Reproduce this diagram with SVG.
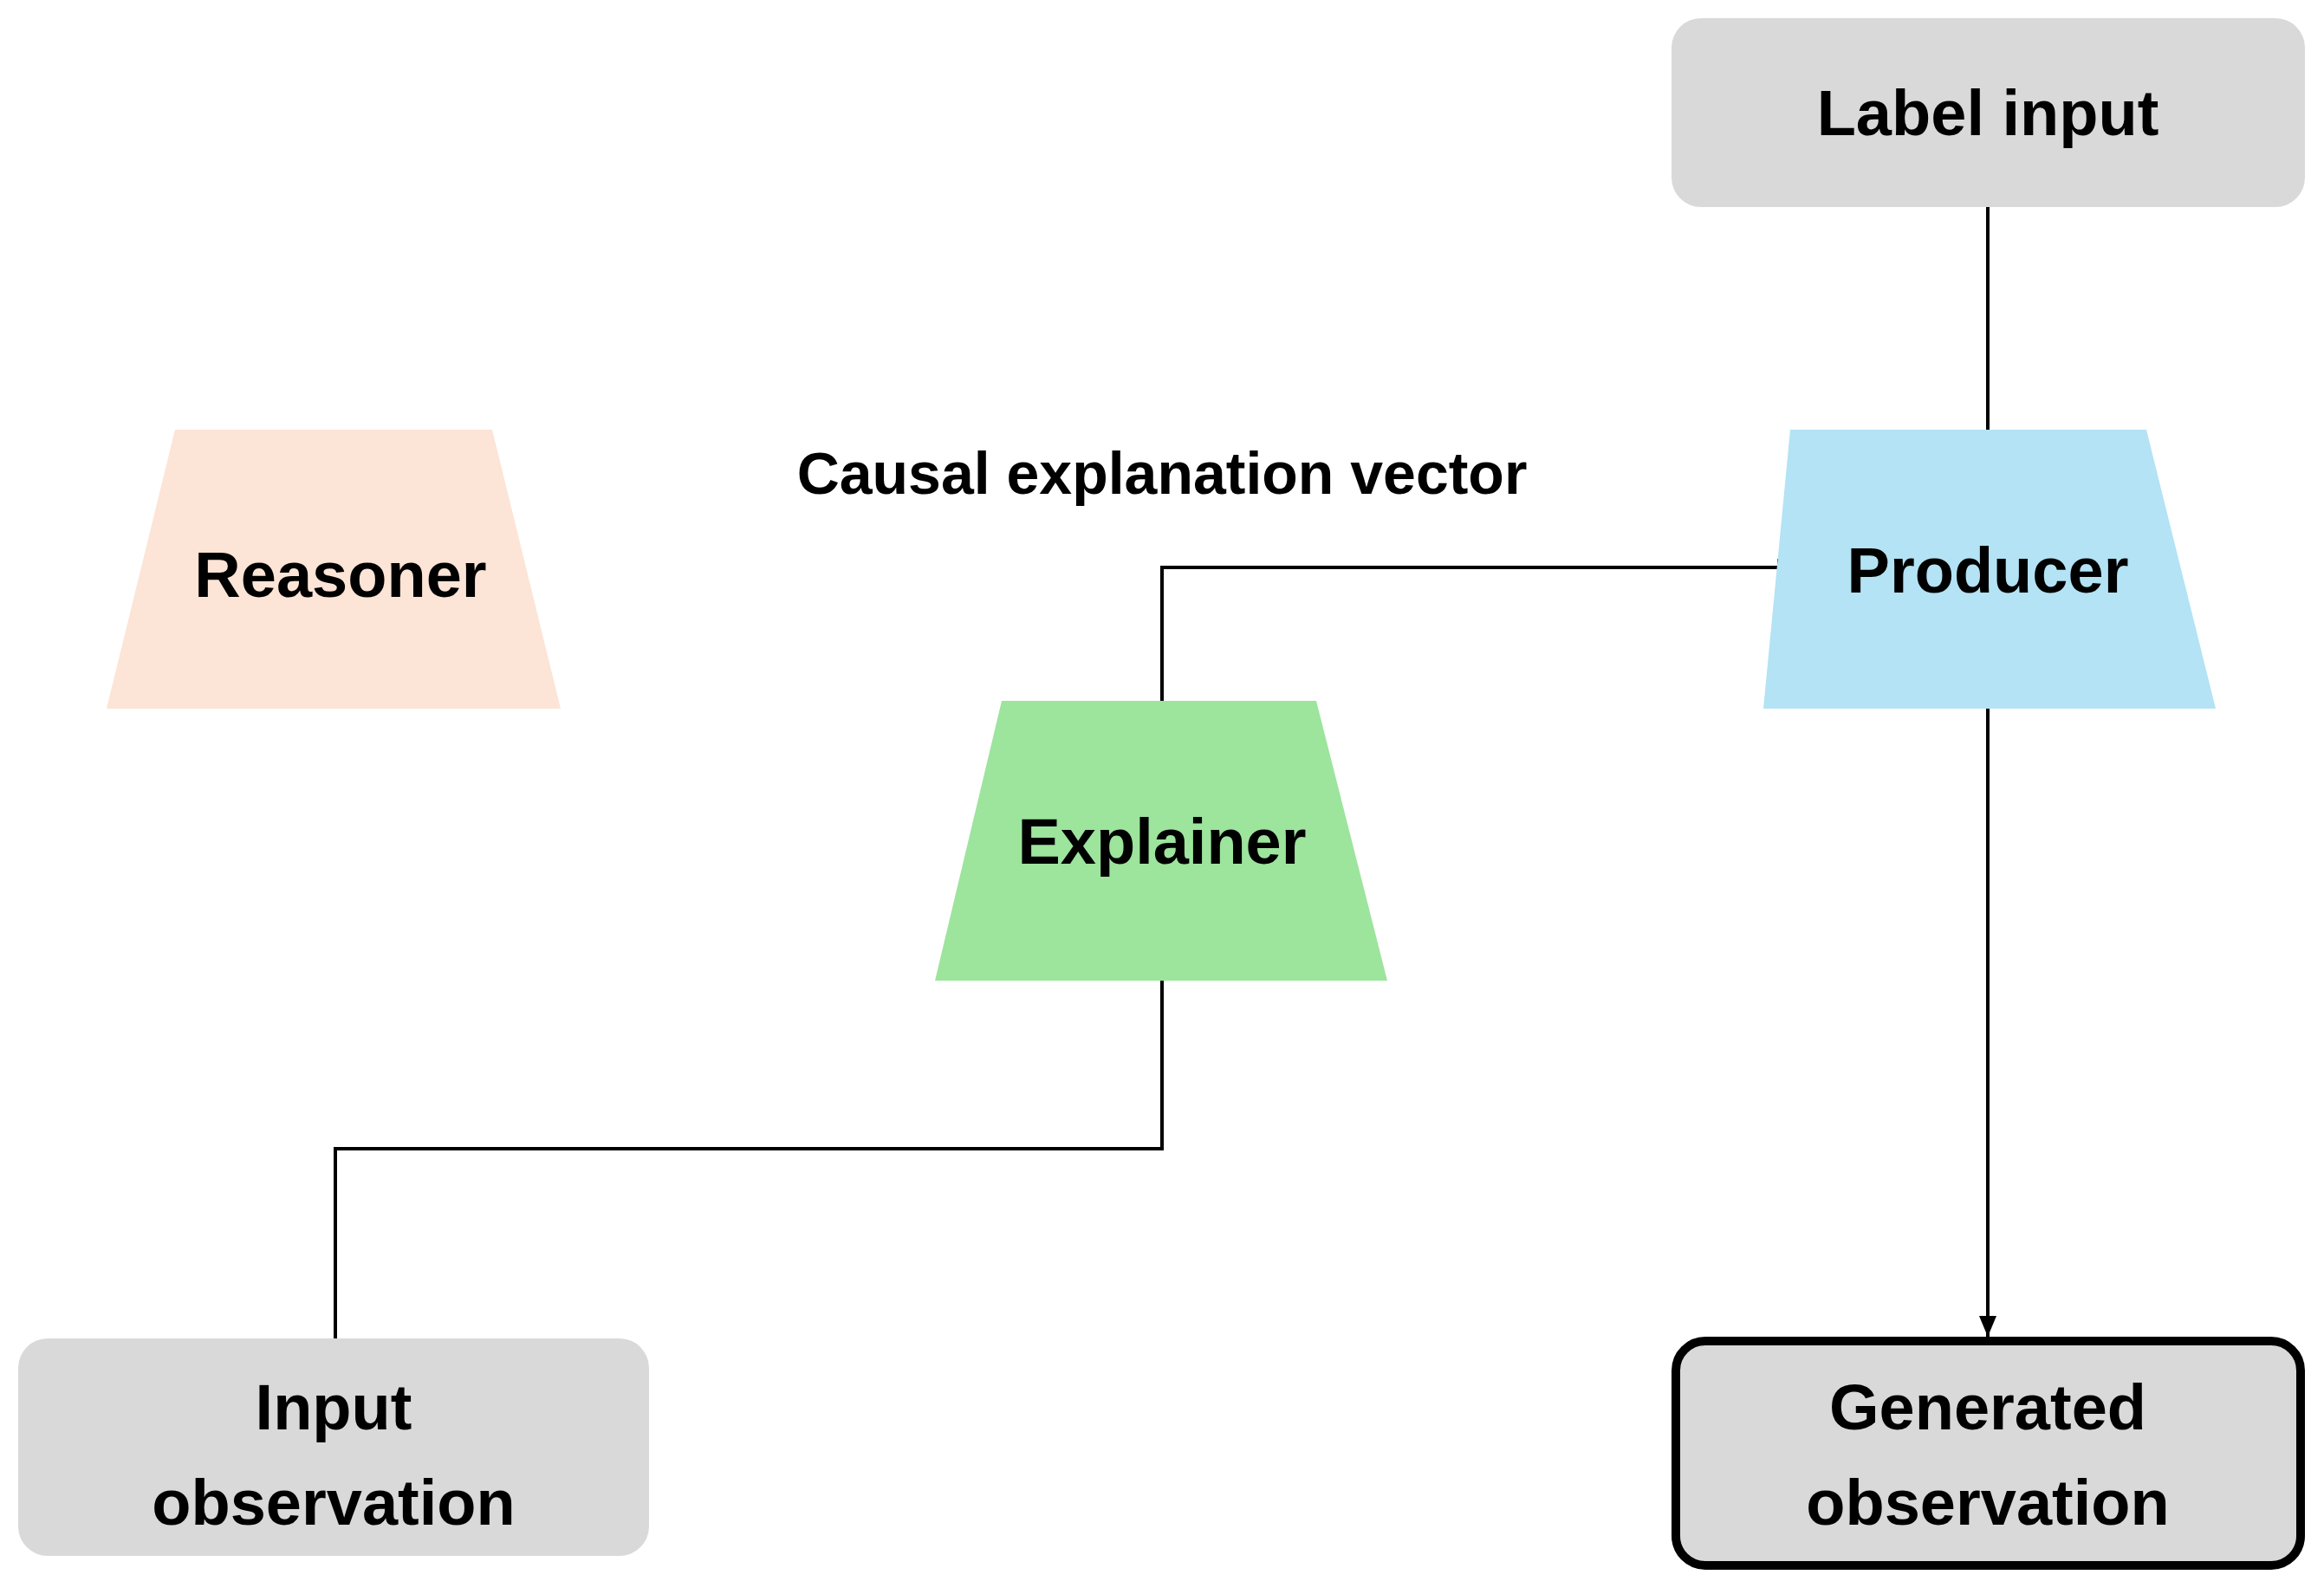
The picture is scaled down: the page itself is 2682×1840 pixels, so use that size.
<svg xmlns="http://www.w3.org/2000/svg" width="2682" height="1840" viewBox="0 0 2682 1840">
<style>
text{font-family:"Liberation Sans",Arial,sans-serif;font-weight:bold;fill:#000;text-anchor:middle}
.n{font-size:74px}
.box{fill:#d9d9d9}
.c{fill:none;stroke:#000;stroke-width:4}
</style>
<defs><marker id="a" markerWidth="10" markerHeight="10" refX="9" refY="5" orient="auto" markerUnits="userSpaceOnUse" viewBox="0 0 10 10"><path d="M0,0L10,5L0,10z" fill="#000"/></marker>
<marker id="b" markerWidth="24" markerHeight="20" refX="24" refY="10" orient="auto" markerUnits="userSpaceOnUse"><path d="M0,0L24,10L0,20z" fill="#000"/></marker></defs>
<rect width="2682" height="1840" fill="#fff"/>
<g id="connectors">
<path class="c" d="M2294,239V496"/>
<path class="c" d="M1341,809V655H2075" marker-end="url(#b)"/>
<path class="c" d="M1341,1132V1326H387V1545"/>
<path class="c" d="M2294,818V1543" marker-end="url(#b)"/>
</g>
<g id="label-input"><rect class="box" x="1929" y="21" width="731" height="218" rx="34"/><text class="n" x="2294" y="156">Label input</text></g>
<g id="reasoner"><polygon points="202,496 568,496 647,818 123,818" fill="#fce4d6"/><text class="n" x="393" y="689">Reasoner</text></g>
<g id="causal-label"><text x="1341" y="570" font-size="68">Causal explanation vector</text></g>
<g id="producer"><polygon points="2066,496 2477,496 2557,818 2035,818" fill="#b3e3f4"/><text class="n" x="2294" y="684">Producer</text></g>
<g id="explainer"><polygon points="1156,809 1519,809 1601,1132 1079,1132" fill="#9de49d"/><text class="n" x="1341" y="997">Explainer</text></g>
<g id="input-observation"><rect class="box" x="21" y="1545" width="728" height="251" rx="34"/><text class="n" x="385" y="1650">Input</text><text class="n" x="385" y="1760">observation</text></g>
<g id="generated-observation"><rect class="box" x="1934" y="1548" width="721" height="259" rx="34" stroke="#000" stroke-width="10"/><text class="n" x="2294" y="1650">Generated</text><text class="n" x="2294" y="1760">observation</text></g>
</svg>
